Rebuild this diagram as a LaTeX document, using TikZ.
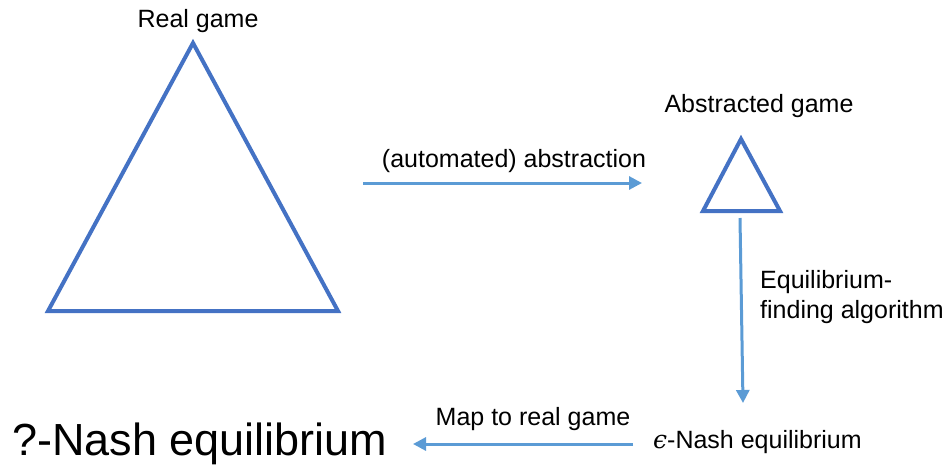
\documentclass[tikz,border=0pt]{standalone}
\usepackage{fontspec}
\setmainfont{Liberation Sans}
\newfontfamily\epsfont{DejaVu Serif}
\usetikzlibrary{arrows.meta}
\definecolor{tri}{HTML}{4472C4}
\definecolor{flow}{HTML}{5B9BD5}
\begin{document}
\begin{tikzpicture}[x=1pt,y=-1pt,
  lbl/.style={inner sep=0pt,font=\fontsize{25}{30}\selectfont},
  gametri/.style={draw=tri,line width=4pt,line join=miter},
  flowarrow/.style={draw=flow,line width=3pt,-{Triangle[length=13pt,width=13pt]}}]
\useasboundingbox (0,0) rectangle (950,464);
% real game
\coordinate (bigtop) at (193,43);
\coordinate (bigleft) at (48,311);
\coordinate (bigright) at (338,311);
\draw[gametri] (bigtop) -- (bigright) -- (bigleft) -- cycle;
\node[lbl,anchor=base] (real) at (198,27) {Real game};
% abstracted game
\coordinate (smtop) at (741,139);
\coordinate (smleft) at (703,211);
\coordinate (smright) at (780,211);
\draw[gametri] (smtop) -- (smright) -- (smleft) -- cycle;
\node[lbl,anchor=base] (abs) at (759,112) {Abstracted game};
% abstraction step
\coordinate (absfrom) at (363,183);
\coordinate (absto) at (642,183);
\draw[flowarrow] (absfrom) -- (absto);
\node[lbl,anchor=base] (abslbl) at (514,167) {(automated) abstraction};
% equilibrium finding
\coordinate (eqfrom) at (740,218);
\coordinate (eqto) at (743,403);
\draw[flowarrow] (eqfrom) -- (eqto);
\node[lbl,anchor=base west] (eqlbl1) at (760,288) {Equilibrium-};
\node[lbl,anchor=base west] (eqlbl2) at (760,318) {finding algorithm};
% epsilon equilibrium and mapping back
\node[lbl,anchor=base west] (epsne) at (653,448) {{\epsfont\itshape ϵ}-Nash equilibrium};
\coordinate (mapfrom) at (633,444);
\coordinate (mapto) at (413,444);
\draw[flowarrow] (mapfrom) -- (mapto);
\node[lbl,anchor=base] (maplbl) at (533,425) {Map to real game};
\node[inner sep=0pt,anchor=base west,font=\fontsize{45}{54}\selectfont] (qne) at (12,455) {?-Nash equilibrium};
\end{tikzpicture}
\end{document}
